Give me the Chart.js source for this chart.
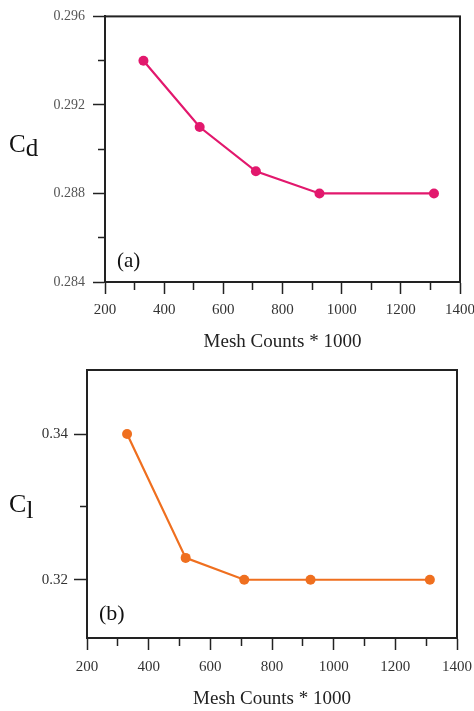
<!DOCTYPE html>
<html>
<head>
<meta charset="utf-8">
<script src="https://cdn.jsdelivr.net/npm/chart.js@4.4.1/dist/chart.umd.min.js"></script>
<style>
  body { margin: 0; background: #fff; }
  #wrap { position: relative; width: 474px; height: 711px; font-family: "Liberation Serif", "Times New Roman", serif; color: #111; }
  canvas { position: absolute; left: 0; }
  .lab { position: absolute; line-height: 1; white-space: nowrap; }
  .sub { position: relative; }
</style>
</head>
<body>
<div id="wrap">
  <canvas id="cdChart" width="474" height="360" style="top:0px"></canvas>
  <canvas id="clChart" width="474" height="356" style="top:355px"></canvas>
  <div class="lab" style="left:9px;top:131px;font-size:25px">C<span class="sub" style="top:4px">d</span></div>
  <div class="lab" style="left:117px;top:250px;font-size:21px">(a)</div>
  <div class="lab" style="left:9px;top:491px;font-size:26px">C<span class="sub" style="top:6px">l</span></div>
  <div class="lab" style="left:99px;top:602px;font-size:22px">(b)</div>
</div>
<script>
// data
const meshCounts = [330, 520, 710, 925, 1312];
const cdValues = [0.294, 0.291, 0.289, 0.288, 0.288];
const clValues = [0.340, 0.323, 0.320, 0.320, 0.320];

// ticks and labels
const meshTicks = [200, 300, 400, 500, 600, 700, 800, 900, 1000, 1100, 1200, 1300, 1400];
const meshLabels = [200, 400, 600, 800, 1000, 1200, 1400];
const cdTicks = [0.284, 0.286, 0.288, 0.290, 0.292, 0.294, 0.296];
const cdLabels = ["0.284", "0.288", "0.292", "0.296"];
const clTicks = [0.32, 0.33, 0.34];
const clLabels = ["0.32", "0.34"];

const serif = "'Liberation Serif', 'Times New Roman', serif";
const ink = "#222";
const minorLen = 7;

// box around the plot area
const frame = {
    id: "frame",
    beforeDatasetsDraw(chart) {
        let a = chart.chartArea;
        let c = chart.ctx;
        c.save();
        c.strokeStyle = ink;
        c.lineWidth = 2;
        c.strokeRect(a.left, a.top, a.right - a.left, a.bottom - a.top);
        c.restore();
    }
};

function buildChart(id, values, color, box, yMin, yMax, yTicks, yLabels, digits, yFont, yColor) {
    let xMajor = v => meshLabels.includes(v);
    let yMajor = v => yLabels.includes(v.toFixed(digits));

    new Chart(id, {
        type: "line",
        data: {
            datasets: [{
                data: meshCounts.map((m, i) => ({ x: m, y: values[i] })),
                borderColor: color,
                backgroundColor: color,
                borderWidth: 2.2,
                pointRadius: 5,
                pointHoverRadius: 5,
                pointBorderWidth: 0,
                tension: 0
            }]
        },
        options: {
            responsive: false,
            animation: false,
            layout: { padding: { top: box.top, right: box.right, left: 0, bottom: 0 } },
            plugins: { legend: { display: false }, tooltip: { enabled: false } },
            scales: {
                x: {
                    type: "linear",
                    min: 200,
                    max: 1400,
                    afterBuildTicks: s => { s.ticks = meshTicks.map(v => ({ value: v })); },
                    afterFit: s => {
                        s.height = box.xHeight;
                        // let the end labels hang over, like the original
                        s.paddingLeft = 0;
                        s.paddingRight = 0;
                    },
                    border: { color: ink, width: 2 },
                    grid: {
                        drawOnChartArea: false,
                        tickLength: box.xTick,
                        tickWidth: 1.5,
                        tickColor: ink,
                        tickBorderDash: c => (c.tick && !xMajor(c.tick.value)) ? [minorLen, 40] : []
                    },
                    ticks: {
                        autoSkip: false,
                        maxRotation: 0,
                        padding: box.xPad,
                        color: "#333",
                        font: { family: serif, size: 15 },
                        callback: v => xMajor(v) ? String(v) : ""
                    },
                    title: {
                        display: true,
                        text: "Mesh Counts * 1000",
                        color: ink,
                        font: { family: serif, size: 19 },
                        padding: { top: 0, bottom: box.titlePad }
                    }
                },
                y: {
                    min: yMin,
                    max: yMax,
                    afterBuildTicks: s => { s.ticks = yTicks.map(v => ({ value: v })); },
                    afterFit: s => { s.width = box.left; },
                    border: { color: ink, width: 2 },
                    grid: {
                        drawOnChartArea: false,
                        tickLength: box.yTick,
                        tickWidth: 1.5,
                        tickColor: ink,
                        // left ticks are drawn from the outer end, so skip the outer part
                        tickBorderDash: c => (c.tick && !yMajor(c.tick.value)) ? [0, box.yTick - minorLen, minorLen, 40] : []
                    },
                    ticks: {
                        padding: box.yPad,
                        color: yColor,
                        font: { family: serif, size: yFont },
                        callback: v => yMajor(v) ? v.toFixed(digits) : ""
                    }
                }
            }
        },
        plugins: [frame]
    });
}

buildChart("cdChart", cdValues, "#E2186D",
    { top: 15, right: 14, left: 105, xHeight: 78, xTick: 12, xPad: 7, yTick: 12, yPad: 8, titlePad: 7 },
    0.284, 0.296, cdTicks, cdLabels, 3, 14, "#555");

buildChart("clChart", clValues, "#EF6F1F",
    { top: 15, right: 17, left: 87, xHeight: 73, xTick: 12, xPad: 8, yTick: 13, yPad: 6, titlePad: 1 },
    0.312, 0.3488, clTicks, clLabels, 2, 15, "#333");
</script>
</body>
</html>
